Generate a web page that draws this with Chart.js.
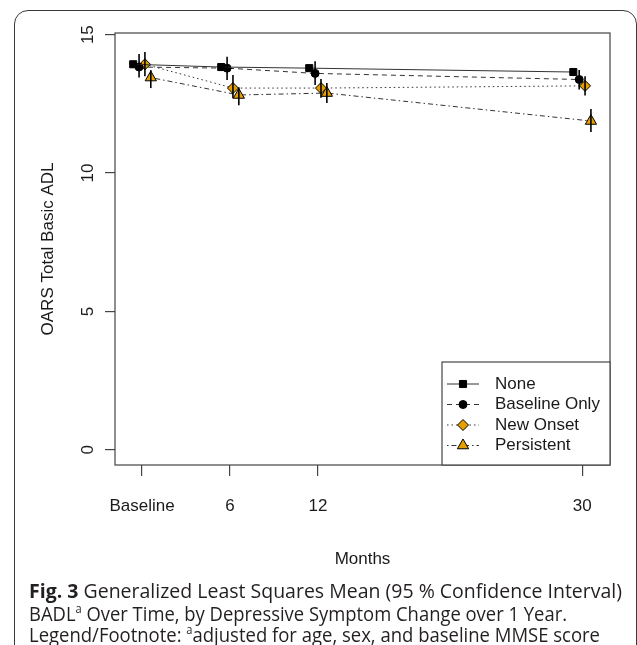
<!DOCTYPE html>
<html>
<head>
<meta charset="utf-8">
<script src="https://cdn.jsdelivr.net/npm/chart.js@4.4.0/dist/chart.umd.min.js"></script>
<style>
html, body { margin: 0; padding: 0; background: #fff; }
body { width: 637px; height: 645px; position: relative; overflow: hidden; }
#frame { position: absolute; left: 14px; top: 10px; width: 623px; height: 660px; box-sizing: border-box;
  border: 1.5px solid #3a3a3a; border-radius: 14px; }
#wrap { position: absolute; left: 0; top: 0; width: 637px; height: 580px; }
.cap { position: absolute; left: 29px; font-family: "Open Sans", sans-serif; font-size: 20px; color: #231f20;
  white-space: nowrap; transform-origin: 0 50%; line-height: 24px; }
.cap b { font-weight: 700; }
.cap sup { font-size: 0.6em; vertical-align: 0.65em; line-height: 0; }
</style>
</head>
<body>
<div id="frame"></div>
<div id="wrap"><canvas id="chart" width="637" height="580"></canvas></div>
<div class="cap" id="cap1" data-w="593" style="top:579px"><b>Fig. 3</b> Generalized Least Squares Mean (95 % Confidence Interval)</div>
<div class="cap" id="cap2" data-w="538" style="top:602px">BADL<sup>a</sup> Over Time, by Depressive Symptom Change over 1 Year.</div>
<div class="cap" id="cap3" data-w="571" style="top:623px">Legend/Footnote: <sup>a</sup>adjusted for age, sex, and baseline MMSE score</div>
<script>
// data
const months = [0, 6, 12, 30];
const xTickLabels = ['Baseline', '6', '12', '30'];
const yTicks = [0, 5, 10, 15];
const seriesNames = ['None', 'Baseline Only', 'New Onset', 'Persistent'];

const noneMean = [13.93, 13.83, 13.79, 13.65];
const noneLow  = [13.80, 13.72, 13.67, 13.53];
const noneHigh = [14.06, 13.94, 13.91, 13.77];

const baseOnlyMean = [13.83, 13.79, 13.60, 13.38];
const baseOnlyLow  = [13.45, 13.36, 13.18, 13.02];
const baseOnlyHigh = [14.30, 14.20, 14.04, 13.72];

const newOnsetMean = [13.93, 13.07, 13.07, 13.15];
const newOnsetLow  = [13.50, 12.70, 12.72, 12.80];
const newOnsetHigh = [14.37, 13.54, 13.40, 13.50];

const persistMean = [13.45, 12.82, 12.89, 11.88];
const persistLow  = [13.07, 12.45, 12.53, 11.48];
const persistHigh = [13.72, 13.10, 13.25, 12.31];

const means = [noneMean, baseOnlyMean, newOnsetMean, persistMean];
const lows = [noneLow, baseOnlyLow, newOnsetLow, persistLow];
const highs = [noneHigh, baseOnlyHigh, newOnsetHigh, persistHigh];

const ORANGE = '#E69F00';
const FONT = 'Liberation Sans, Arial, sans-serif';
const INK = '#1a1a1a';
const styles = [
    { dodge: -0.6, dash: [], pointStyle: 'rect', radius: 5, fill: '#000' },
    { dodge: -0.2, dash: [5, 4], pointStyle: 'circle', radius: 4, fill: '#000' },
    { dodge: 0.2, dash: [1.5, 3], pointStyle: 'rectRot', radius: 5.5, fill: ORANGE },
    { dodge: 0.6, dash: [1.5, 3, 5, 3], pointStyle: 'triangle', radius: 6.5, fill: ORANGE }
];

const datasets = seriesNames.map((name, i) => ({
    label: name,
    data: months.map((m, j) => ({ x: m + styles[i].dodge, y: means[i][j] })),
    showLine: true,
    borderColor: '#333',
    borderWidth: 1,
    borderDash: styles[i].dash,
    pointStyle: styles[i].pointStyle,
    pointRadius: styles[i].radius,
    pointBackgroundColor: styles[i].fill,
    pointBorderColor: '#000',
    pointBorderWidth: 1
}));

// vertical 95% CI bars
const errorBars = {
    id: 'errorBars',
    afterDatasetsDraw(chart) {
        const { ctx, scales: { x, y } } = chart;
        ctx.save();
        ctx.strokeStyle = '#000';
        ctx.lineWidth = 1.6;
        lows.forEach((lo, i) => {
            lo.forEach((v, j) => {
                const px = x.getPixelForValue(months[j] + styles[i].dodge);
                ctx.beginPath();
                ctx.moveTo(px, y.getPixelForValue(v));
                ctx.lineTo(px, y.getPixelForValue(highs[i][j]));
                ctx.stroke();
            });
        });
        ctx.restore();
    }
};

// R-style box, rotated y labels and legend
const rStyle = {
    id: 'rStyle',
    afterDraw(chart) {
        const { ctx, chartArea: a, scales: { y } } = chart;
        ctx.save();
        ctx.strokeStyle = '#444';
        ctx.lineWidth = 1.2;
        ctx.strokeRect(a.left, a.top, a.right - a.left, a.bottom - a.top);

        ctx.fillStyle = INK;
        ctx.font = '17px ' + FONT;
        ctx.textAlign = 'center';
        ctx.textBaseline = 'middle';
        yTicks.forEach(v => {
            ctx.save();
            ctx.translate(a.left - 27, y.getPixelForValue(v));
            ctx.rotate(-Math.PI / 2);
            ctx.fillText(String(v), 0, 0);
            ctx.restore();
        });

        // legend
        const lw = 168, lh = 103;
        const lx = a.right - lw, ly = a.bottom - lh;
        ctx.fillStyle = '#fff';
        ctx.fillRect(lx, ly, lw, lh);
        ctx.strokeRect(lx, ly, lw, lh);
        seriesNames.forEach((name, i) => {
            const ey = ly + 22 + i * 20.5;
            ctx.save();
            ctx.strokeStyle = '#333';
            ctx.lineWidth = 1;
            ctx.setLineDash(styles[i].dash);
            ctx.beginPath();
            ctx.moveTo(lx + 5, ey);
            ctx.lineTo(lx + 37, ey);
            ctx.stroke();
            ctx.setLineDash([]);
            ctx.fillStyle = styles[i].fill;
            ctx.strokeStyle = '#000';
            ctx.lineWidth = 1;
            Chart.helpers.drawPoint(ctx, { pointStyle: styles[i].pointStyle, radius: styles[i].radius, rotation: 0, borderWidth: 1 }, lx + 21, ey);
            ctx.restore();
            ctx.fillStyle = INK;
            ctx.textAlign = 'left';
            ctx.fillText(name, lx + 53, ey);
        });
        ctx.restore();
    }
};

new Chart(document.getElementById('chart'), {
    type: 'scatter',
    data: { datasets },
    plugins: [errorBars, rStyle],
    options: {
        responsive: false,
        animation: false,
        layout: { padding: { left: 20, top: 33, right: 27, bottom: 7 } },
        plugins: { legend: { display: false }, tooltip: { enabled: false } },
        scales: {
            x: {
                type: 'linear',
                min: -1.84, max: 31.9,
                afterBuildTicks: s => { s.ticks = months.map(v => ({ value: v })); },
                afterFit: s => { s.height = 108; },
                grid: { drawOnChartArea: false, drawTicks: true, tickLength: 11, color: '#444', lineWidth: 1.2 },
                border: { display: false },
                ticks: {
                    autoSkip: false, maxRotation: 0, minRotation: 0, padding: 20,
                    color: INK, font: { family: FONT, size: 17 },
                    callback: (v, i) => xTickLabels[i]
                },
                title: { display: true, text: 'Months', color: INK, font: { family: FONT, size: 17 }, padding: { top: 0, bottom: 3 } }
            },
            y: {
                type: 'linear',
                min: -0.55, max: 15.06,
                afterBuildTicks: s => { s.ticks = yTicks.map(v => ({ value: v })); },
                afterFit: s => { s.width = 95; },
                grid: { drawOnChartArea: false, drawTicks: true, tickLength: 10, color: '#444', lineWidth: 1.2 },
                border: { display: false },
                ticks: { display: false },
                title: { display: true, text: 'OARS Total Basic ADL', color: INK, font: { family: FONT, size: 17 }, padding: { top: 18, bottom: 0 } }
            }
        }
    }
});

// fit caption lines to the measured widths
document.querySelectorAll('.cap').forEach(el => {
    const w = el.getBoundingClientRect().width;
    el.style.transform = 'scaleX(' + (Number(el.dataset.w) / w) + ')';
});
</script>
</body>
</html>
